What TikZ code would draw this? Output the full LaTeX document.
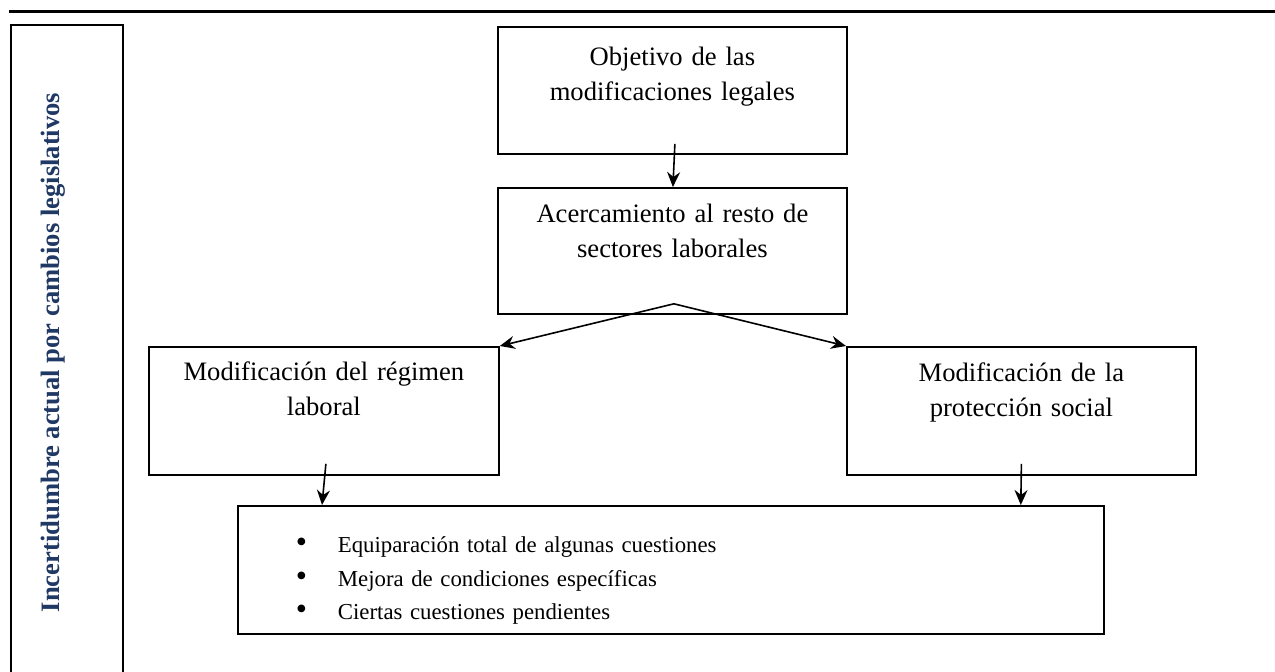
\documentclass[tikz,border=0pt]{standalone}
\usepackage{fontspec}
\setmainfont{Liberation Serif}
\usetikzlibrary{arrows.meta}
\definecolor{azulosc}{RGB}{31,56,100}
\tikzset{
  caja/.style={draw, line width=0.9pt, align=center, inner sep=0pt,
    font=\fontsize{13.3}{17.4}\selectfont, text height=17.5pt},
  flecha/.style={-{Stealth[length=7.5pt,width=6.5pt,inset=2.5pt]}, line width=0.8pt},
}
\newcommand{\vineta}{\hspace*{29pt}\makebox[21pt][l]{\raisebox{0.2pt}{\fontsize{16}{0}\selectfont\textbullet}}}

\begin{document}
\begin{tikzpicture}[x=0.5pt,y=-0.5pt]
	\useasboundingbox (0,0) rectangle (1275,671);
	% linea superior
	\draw[line width=1.5pt] (9,11) -- (1275,11);
	% recuadro lateral
	\node[draw, line width=0.9pt, rotate=90, inner sep=0pt, minimum width=327.5pt,
		text height=24pt, text depth=32pt, text=azulosc,
		font=\fontsize{13.3}{16}\selectfont\bfseries] (lateral) at (67,352.5)
		{Incertidumbre actual por cambios legislativos};
	% cajas
	\node[caja, anchor=north west, text width=174.5pt, text height=19.5pt, text depth=44pt] (obj) at (497,26)
		{Objetivo de las\\modificaciones legales};
	\node[caja, anchor=north west, text width=174.5pt, text depth=45.5pt] (acerc) at (497,187)
		{Acercamiento al resto de\\sectores laborales};
	\node[caja, anchor=north west, text width=175pt, text height=17pt, text depth=47pt] (regimen) at (148,346)
		{Modificación del régimen\\laboral};
	\node[caja, anchor=north west, text width=174.5pt, text depth=46.5pt] (proteccion) at (846,346)
		{Modificación de la\\protección social};
	\node[caja, anchor=north west, align=left, text width=433pt, text height=23.5pt, text depth=40.5pt,
		font=\fontsize{11.4}{16.75}\selectfont] (lista) at (237,505)
		{\vineta Equiparación total de algunas cuestiones\\
		 \vineta Mejora de condiciones específicas\\
		 \vineta Ciertas cuestiones pendientes};
	% flechas
	\draw[flecha] ([xshift=1.25pt,yshift=5.5pt]obj.south) -- ([xshift=0.25pt]acerc.north);
	\draw[flecha] ([xshift=0.75pt,yshift=5.5pt]acerc.south) -- (regimen.north east);
	\draw[flecha] ([xshift=0.75pt,yshift=5.5pt]acerc.south) -- (proteccion.north west);
	\draw[flecha] ([xshift=1pt,yshift=6pt]regimen.south) -- ([xshift=42.5pt]lista.north west);
	\draw[flecha] ([yshift=6pt]proteccion.south) -- ([xshift=-42pt]lista.north east);
\end{tikzpicture}
\end{document}
